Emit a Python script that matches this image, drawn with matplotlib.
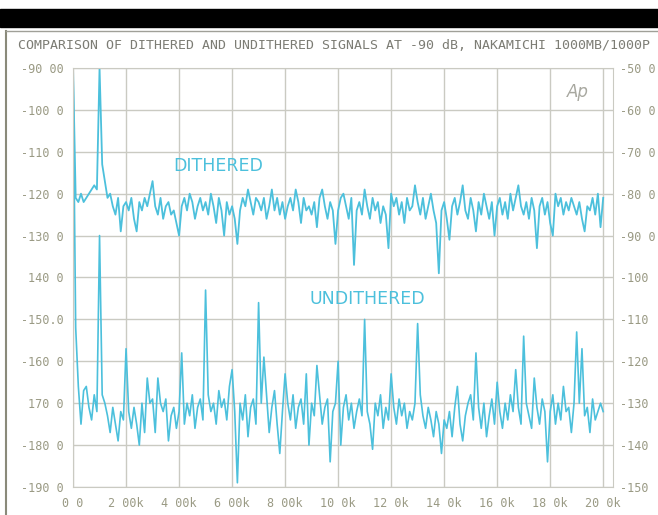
import numpy as np
import matplotlib
matplotlib.use("Agg")
import matplotlib.pyplot as plt

# frequency points, Hz (every 100 Hz)
freq = np.arange(0, 20001, 100)

# dithered signal, dB (left scale)
dithered = [
    -90, -121, -122, -120, -122, -121, -120, -119, -118, -119,
    -90, -113, -117, -121, -120, -123, -125, -121, -129, -123,
    -122, -124, -121, -126, -129, -122, -124, -121, -123, -120,
    -117, -123, -125, -121, -126, -123, -122, -125, -124, -127,
    -130, -123, -121, -124, -120, -122, -126, -123, -121, -124,
    -122, -125, -120, -123, -127, -121, -124, -130, -122, -125,
    -123, -126, -132, -124, -121, -123, -119, -122, -125, -121,
    -122, -124, -121, -126, -123, -119, -124, -121, -125, -122,
    -126, -123, -121, -124, -119, -122, -127, -121, -124, -123,
    -125, -122, -128, -121, -119, -123, -126, -122, -124, -132,
    -124, -121, -120, -123, -126, -121, -137, -124, -122, -125,
    -119, -123, -126, -121, -124, -122, -127, -123, -125, -133,
    -120, -123, -121, -125, -122, -127, -121, -124, -123, -118,
    -122, -125, -121, -126, -123, -120, -124, -127, -139, -124,
    -122, -126, -131, -123, -121, -125, -122, -118, -124, -126,
    -121, -124, -129, -122, -125, -120, -123, -126, -122, -130,
    -123, -121, -125, -122, -126, -120, -124, -121, -118, -123,
    -125, -122, -126, -121, -124, -133, -123, -121, -125, -122,
    -127, -130, -120, -123, -121, -125, -122, -124, -121, -123,
    -125, -122, -126, -129, -123, -124, -121, -125, -120, -128,
    -121,
]

# undithered signal, dB (left scale)
undithered = [
    -90, -152, -166, -175, -167, -166, -171, -174, -168, -172,
    -130, -168, -170, -173, -177, -171, -175, -179, -172, -174,
    -157, -172, -176, -171, -175, -180, -170, -177, -164, -170,
    -169, -177, -164, -170, -172, -169, -179, -173, -171, -176,
    -172, -158, -175, -170, -173, -168, -176, -171, -169, -174,
    -143, -168, -172, -170, -175, -167, -171, -169, -174, -166,
    -162, -172, -189, -170, -174, -168, -178, -171, -169, -175,
    -146, -170, -159, -168, -177, -171, -167, -175, -182, -172,
    -163, -170, -174, -168, -176, -171, -169, -175, -163, -180,
    -170, -173, -161, -168, -175, -171, -169, -184, -172, -170,
    -160, -180, -171, -168, -174, -170, -176, -172, -169, -173,
    -150, -172, -175, -181, -170, -173, -168, -176, -171, -174,
    -163, -171, -175, -169, -173, -170, -176, -172, -174, -170,
    -151, -168, -173, -176, -171, -174, -178, -172, -175, -182,
    -174, -176, -172, -178, -171, -166, -175, -179, -173, -170,
    -168, -174, -158, -171, -176, -170, -178, -173, -169, -175,
    -165, -172, -176, -170, -174, -168, -172, -162, -171, -175,
    -154, -170, -173, -176, -164, -171, -175, -169, -172, -184,
    -172, -168, -175, -170, -174, -166, -172, -171, -177, -170,
    -153, -170, -157, -173, -171, -177, -169, -174, -172, -170,
    -172,
]

x_ticks = np.arange(0, 20001, 2000)
x_labels = ["0 0", "2 00k", "4 00k", "6 00k", "8 00k", "10 0k",
            "12 0k", "14 0k", "16 0k", "18 0k", "20 0k"]
left_ticks = np.arange(-90, -191, -10)
left_labels = ["-90 00", "-100 0", "-110 0", "-120 0", "-130 0", "140 0",
               "-150.0", "-160 0", "170 0", "-180 0", "-190 0"]
right_ticks = np.arange(-50, -151, -10)
right_labels = ["-50 0", "-60 0", "-70 0", "-80 0", "-90 0", "-100",
                "-110", "-120", "-130", "-140", "-150"]

trace = "#4cc0dc"
grid = "#cacac2"
lab = "#9a9a84"
mono = "DejaVu Sans Mono"

fig = plt.figure(figsize=(6.58, 5.15), dpi=100)

# black band and scan frame
fig.patches.append(plt.Rectangle((0, 0.9476), 1, 0.035, transform=fig.transFigure,
                                 color="black", zorder=0))
fig.add_artist(plt.Line2D([0.009, 0.009], [0, 0.94], transform=fig.transFigure,
                          color="#8a8a7a", lw=1.5))
fig.add_artist(plt.Line2D([0.009, 1], [0.94, 0.94], transform=fig.transFigure,
                          color="#a0a098", lw=1))

fig.text(0.027, 0.911,
         "COMPARISON OF DITHERED AND UNDITHERED SIGNALS AT -90 dB, NAKAMICHI 1000MB/1000P",
         family=mono, fontsize=9.5, color="#7c7c74", va="center")

ax = fig.add_axes([0.111, 0.0544, 0.821, 0.8136])
ax.plot(freq, dithered, color=trace, lw=1.3)
ax.plot(freq, undithered, color=trace, lw=1.2)
ax.set_xlim(0, 20380)
ax.set_ylim(-190, -90)
ax.set_xticks(x_ticks)
ax.set_xticklabels(x_labels)
ax.set_yticks(left_ticks)
ax.set_yticklabels(left_labels)
ax.grid(True, color=grid, lw=1)
ax.tick_params(length=0, pad=7, labelsize=8.5, labelcolor=lab)
for t in ax.get_xticklabels() + ax.get_yticklabels():
    t.set_family(mono)
for s in ax.spines.values():
    s.set_color(grid)

ax2 = ax.twinx()
ax2.set_ylim(-150, -50)
ax2.set_yticks(right_ticks)
ax2.set_yticklabels(right_labels)
ax2.tick_params(length=0, pad=5, labelsize=8.5, labelcolor=lab)
for t in ax2.get_yticklabels():
    t.set_family(mono)
for s in ax2.spines.values():
    s.set_visible(False)

ax.text(5470, -113.4, "DITHERED", color=trace, fontsize=12.5, ha="center", va="center")
ax.text(11120, -145.1, "UNDITHERED", color=trace, fontsize=12.5, ha="center", va="center")
ax.text(0.955, 0.965, "Ap", transform=ax.transAxes, color="#a8a8a0", fontsize=12,
        style="italic", ha="right", va="top")

fig.savefig("out.png", dpi=100)
